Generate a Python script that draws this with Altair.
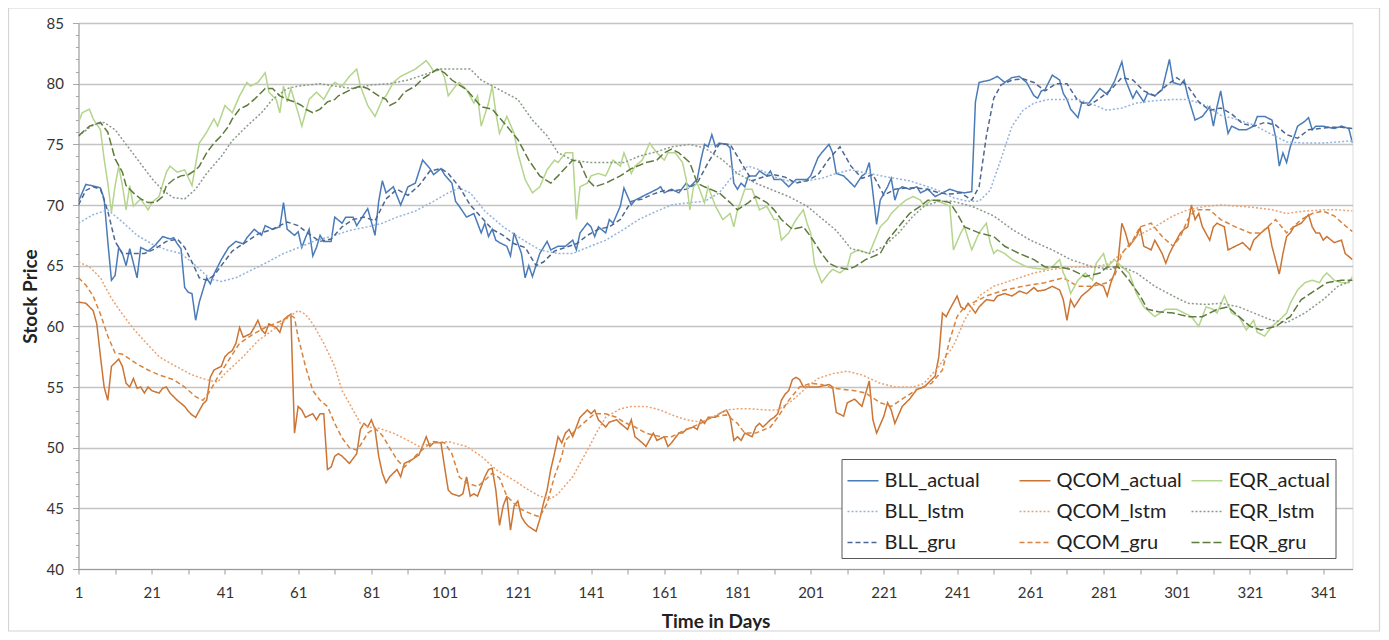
import altair as alt
import pandas as pd

# ---------------- data ----------------
BLL_ACTUAL_DAYS = [1,3,6,7,8,9,10,11,12,13,14,15,16,17,18,20,22,24,26,27,28,29,30,31,32,33,34,35,36,37,38,40,42,44,46,47,49,51,52,54,56,57,58,60,61,62,63,64,65,66,67,68,70,71,73,74,76,77,80,82,83,84,85,87,89,91,93,95,97,98,100,101,103,104,105,107,109,111,112,113,114,115,116,118,119,120,122,123,124,125,127,129,130,132,134,136,137,138,140,141,142,143,145,146,147,149,150,151,152,153,155,157,159,160,161,163,165,167,168,170,171,172,173,174,175,176,178,179,180,181,182,183,184,186,187,189,190,191,193,195,196,197,200,201,203,204,206,207,208,210,211,213,215,216,217,218,219,220,222,223,224,225,226,228,230,231,233,235,237,239,241,243,245,246,247,250,252,254,256,258,260,262,263,264,265,267,269,270,271,272,274,275,277,280,282,284,286,287,289,290,292,293,295,297,299,300,302,303,304,306,308,310,311,312,313,314,315,316,318,320,322,323,325,327,328,329,330,331,332,333,334,336,337,338,339,341,344,346,348,349]
BLL_ACTUAL_VALS = [70.3,71.7,71.5,71.4,70.5,67.0,63.8,64.2,66.5,66.0,65.0,66.4,65.2,64.0,66.5,66.2,66.7,67.4,67.2,67.3,66.8,66.4,63.2,62.8,62.7,60.5,62.0,63.0,64.0,63.5,64.3,65.5,66.5,67.0,66.8,67.3,68.0,67.5,68.3,68.0,68.2,70.2,68.0,67.5,67.8,66.5,67.3,68.0,65.8,66.5,67.5,67.0,67.0,69.0,68.5,69.0,69.0,68.3,69.7,67.5,70.3,72.0,71.0,71.5,70.0,71.5,71.8,73.7,73.0,72.5,73.0,72.5,71.8,70.3,69.9,69.0,69.3,67.7,68.5,67.4,68.0,67.1,66.9,66.6,65.8,67.7,66.0,64.0,65.0,64.1,66.0,67.0,66.3,66.6,66.6,67.1,66.3,67.7,68.5,68.2,67.4,68.2,67.7,68.8,68.5,69.9,71.4,70.7,70.0,70.4,70.7,71.0,71.3,71.5,71.0,71.3,71.0,71.8,71.5,72.1,73.7,75.0,74.8,75.8,74.8,75.1,75.0,74.7,71.8,71.3,71.8,71.5,72.4,72.4,72.8,72.4,72.8,72.1,72.1,71.5,71.8,72.1,72.1,72.4,73.9,74.3,75.0,74.3,72.6,72.4,72.1,71.5,72.4,72.6,73.5,71.0,68.4,70.4,71.5,72.2,70.4,71.3,71.5,71.3,71.5,71.0,71.3,70.7,71.0,71.3,71.1,71.0,71.1,78.5,80.1,80.3,80.6,80.1,80.5,80.6,80.1,79.0,78.8,79.4,79.5,80.7,80.3,79.2,78.7,77.9,77.2,78.4,78.4,79.6,79.1,80.2,81.8,80.3,78.8,79.4,78.5,79.2,79.0,79.5,82.0,80.1,79.9,80.3,79.0,77.0,77.3,78.1,76.5,78.1,79.4,77.6,75.9,76.5,76.2,76.2,76.5,77.3,77.3,77.0,75.6,73.2,74.3,73.5,74.8,75.6,76.5,76.9,77.2,76.2,76.5,76.5,76.3,76.5,76.3,75.1]

BLL_GRU_DAYS = [1,3,5,7,9,11,13,16,19,22,25,28,30,32,34,36,38,40,43,46,50,54,58,61,64,67,70,73,76,79,82,85,88,91,94,97,100,102,105,108,111,114,117,120,123,126,128,131,134,137,140,143,146,149,152,155,158,161,164,167,170,173,176,179,182,185,188,191,194,197,200,203,206,209,212,215,218,221,224,227,230,233,236,239,242,245,247,249,251,253,256,259,262,265,268,271,274,277,280,283,286,289,292,295,298,301,304,307,310,313,316,319,322,325,328,331,334,337,340,343,346,349]
BLL_GRU_VALS = [70.0,71.2,71.5,71.3,69.5,67.0,66.0,66.0,66.0,66.4,67.0,67.2,66.5,65.3,64.0,63.8,64.2,65.0,66.2,66.8,67.6,68.0,68.6,68.3,67.6,67.0,67.2,68.2,68.8,69.0,68.7,70.5,71.3,70.8,71.6,72.8,73.0,72.6,71.5,70.0,69.0,68.0,67.5,66.8,66.5,65.0,65.3,66.2,66.5,66.8,67.5,68.0,68.2,68.8,70.3,70.5,70.9,71.2,71.2,71.3,71.8,73.5,75.0,75.0,73.5,72.0,72.3,72.5,72.3,71.8,72.0,72.5,73.8,74.8,73.2,72.2,72.5,70.8,71.3,71.4,71.4,71.3,71.0,70.9,71.0,70.4,71.5,75.7,78.8,79.9,80.3,80.4,80.1,79.4,80.0,80.0,78.6,78.2,78.8,79.5,80.5,80.3,79.4,79.0,79.8,80.5,79.8,78.5,77.8,78.0,77.5,76.7,76.5,76.8,76.6,75.8,75.5,76.2,76.3,76.4,76.4,76.3]

BLL_LSTM_DAYS = [1,5,9,13,17,21,25,29,33,37,40,44,48,52,57,62,66,70,75,80,84,88,93,98,102,105,108,112,117,122,127,132,136,140,145,150,154,159,163,168,172,176,180,184,188,192,196,200,204,208,212,217,222,228,235,240,244,247,250,253,256,259,262,266,270,274,278,282,286,290,295,300,304,309,313,318,322,327,331,336,341,345,349]
BLL_LSTM_VALS = [68.5,69.2,69.6,68.6,67.5,66.8,66.3,66.0,65.0,63.9,63.7,64.0,64.6,65.2,66.0,66.6,67.1,67.4,67.9,68.2,68.5,69.0,69.5,70.3,71.0,71.4,71.0,69.5,68.2,67.2,66.3,66.0,66.0,66.5,67.1,68.0,68.8,69.5,70.0,70.2,70.3,71.0,72.5,73.2,72.8,72.2,71.9,72.0,72.2,72.6,72.9,72.6,72.3,72.0,71.3,70.6,70.3,70.3,71.2,73.8,76.5,77.8,78.4,78.7,78.7,78.7,78.3,77.8,78.0,78.4,78.6,78.7,78.7,78.2,77.4,77.0,76.6,75.8,75.2,75.1,75.1,75.2,75.3]

QCOM_ACTUAL_DAYS = [1,3,5,6,7,8,9,10,12,13,14,15,16,17,18,19,20,21,23,24,25,26,28,30,31,32,33,35,36,37,38,40,41,42,43,44,45,46,48,49,50,51,52,53,55,56,57,58,59,60,61,62,63,65,66,67,68,69,70,71,72,73,74,75,77,78,79,80,81,82,83,84,85,86,88,89,90,92,94,96,97,98,100,101,102,103,105,106,107,108,109,110,111,112,113,114,115,116,117,118,119,120,121,122,123,124,126,127,128,129,130,131,132,133,134,135,136,137,138,140,141,142,143,145,146,148,149,151,152,153,155,156,158,159,161,162,163,165,166,167,169,170,171,172,173,175,176,178,179,180,181,182,183,185,186,187,188,190,191,192,193,194,195,196,197,198,199,201,203,206,207,208,210,211,213,215,217,218,219,221,222,223,224,226,228,230,232,233,235,236,237,238,239,241,242,243,244,246,247,249,251,252,254,256,258,260,262,263,265,267,269,270,271,272,273,275,277,279,281,282,283,284,285,286,287,288,290,291,292,294,295,297,298,299,300,302,303,304,305,306,307,308,310,311,312,314,315,317,319,321,322,324,326,327,329,330,331,332,333,335,337,338,339,340,341,342,344,346,347,349]
QCOM_ACTUAL_VALS = [62.0,61.9,61.3,60.2,57.5,55.0,53.9,56.7,57.3,56.7,55.3,55.0,55.7,54.9,55.0,54.5,55.0,54.7,54.5,54.9,55.0,54.5,53.9,53.4,53.0,52.7,52.5,53.6,53.9,55.8,56.4,56.7,57.5,57.8,58.0,58.6,59.9,59.1,59.4,59.9,60.5,59.7,59.4,60.2,59.9,59.5,60.5,60.8,61.0,51.2,53.4,53.1,52.5,52.8,52.3,52.8,52.8,48.2,48.4,49.3,49.5,49.3,49.0,48.7,49.5,51.5,52.0,51.7,52.3,51.5,49.3,47.9,47.1,47.6,48.2,47.6,48.7,49.0,49.4,50.9,50.1,50.4,50.4,48.4,46.5,46.2,46.0,46.2,47.6,46.0,46.2,46.0,46.8,47.6,48.2,48.3,46.5,43.6,45.2,46.0,43.2,45.2,45.6,44.3,43.8,43.5,43.1,44.1,45.4,46.5,48.2,49.5,50.9,50.4,51.2,51.5,50.9,51.7,52.5,53.1,52.8,53.1,52.3,51.7,52.1,52.3,52.0,51.5,52.3,50.9,50.4,50.1,51.2,50.6,50.9,50.1,50.4,51.2,51.2,51.5,51.7,51.5,52.3,52.0,52.5,52.5,52.8,53.1,52.5,50.6,50.9,50.6,51.2,50.9,51.7,52.0,51.7,52.3,52.5,52.8,53.9,54.4,54.7,55.6,55.8,55.6,55.0,55.0,55.0,55.2,55.0,52.9,52.6,53.7,54.0,53.4,55.5,52.3,51.2,52.6,53.7,53.1,52.0,53.4,54.0,54.8,55.0,55.3,55.9,57.5,61.1,60.8,61.4,62.5,61.6,61.4,61.9,61.1,61.6,62.2,62.1,62.5,62.7,62.5,62.9,62.7,63.2,62.9,63.0,63.3,63.0,62.2,60.5,62.2,61.6,62.5,63.0,63.6,63.3,62.5,63.6,64.4,65.5,68.5,67.7,66.6,67.4,68.1,66.6,66.3,67.1,66.0,65.2,66.0,66.6,67.7,68.0,68.2,70.0,68.8,69.3,68.2,67.1,68.2,68.5,68.2,66.3,66.6,66.9,66.3,67.1,67.7,68.2,66.6,64.3,66.0,67.4,67.7,68.2,68.5,69.2,68.2,67.7,67.7,67.1,67.4,66.9,67.1,66.0,65.5]

QCOM_GRU_DAYS = [1,3,5,7,9,11,13,15,17,20,23,27,30,33,35,37,39,42,45,49,52,56,59,60,61,63,65,67,69,71,73,75,77,78,80,82,84,86,88,90,92,94,96,98,101,103,105,107,110,112,114,116,118,120,122,125,127,129,131,133,134,137,140,142,145,148,150,153,156,160,163,167,171,174,178,181,183,186,190,192,195,198,201,204,207,210,213,216,220,223,227,230,234,237,239,241,243,245,249,254,259,265,270,274,278,282,284,286,289,291,294,297,300,302,304,306,310,313,317,321,324,328,331,335,338,341,344,347,349]
QCOM_GRU_VALS = [64.0,63.4,62.5,61.0,59.2,57.8,57.7,57.3,56.9,56.4,56.0,55.6,55.0,54.2,53.9,54.7,55.8,57.2,58.6,59.4,59.9,60.4,60.9,60.7,59.1,56.7,54.7,53.9,53.4,52.0,50.8,50.0,49.8,50.2,51.2,51.6,51.0,50.0,49.0,48.4,49.0,49.6,50.1,50.5,50.4,49.5,47.6,47.1,46.8,47.3,47.9,47.5,46.0,45.4,44.9,44.5,44.3,45.4,47.6,49.3,50.6,51.5,52.3,52.8,52.8,52.5,52.1,51.7,51.2,50.9,50.9,51.5,52.0,52.5,52.7,52.0,51.2,51.2,51.7,52.5,53.9,55.0,55.3,55.2,54.9,54.8,54.7,54.5,53.7,53.4,54.2,54.8,55.3,56.4,58.9,60.8,61.6,61.9,62.5,63.0,63.3,63.6,64.0,63.3,63.3,63.6,64.1,66.0,67.1,68.2,68.5,67.4,66.6,67.4,68.8,69.6,69.6,68.8,68.2,67.7,67.7,68.8,67.7,68.8,69.3,69.5,69.1,68.3,67.8]

QCOM_LSTM_DAYS = [1,4,7,10,13,16,19,23,27,32,36,39,41,46,50,55,59,61,63,65,68,71,73,76,78,80,83,87,91,94,98,102,107,111,115,120,124,127,130,132,136,140,143,145,149,152,156,160,163,167,171,174,178,181,185,189,192,196,200,203,207,211,215,220,224,229,232,236,240,243,247,251,256,262,267,272,278,282,286,290,295,300,304,309,313,318,322,327,331,336,341,345,349]
QCOM_LSTM_VALS = [65.3,64.9,64.0,62.3,61.0,59.8,58.8,57.5,56.8,56.0,55.6,55.4,56.1,57.5,58.8,59.9,60.9,61.3,61.0,60.2,58.6,56.7,54.7,53.1,52.0,51.7,51.6,51.2,50.6,50.1,50.4,50.5,50.1,49.3,48.2,47.3,46.5,46.0,45.8,46.2,47.6,49.8,51.5,52.5,53.2,53.4,53.4,53.1,52.7,52.3,52.1,52.5,53.1,53.2,53.2,53.1,53.1,53.9,55.0,55.7,56.1,56.3,56.0,55.3,55.0,55.0,55.3,56.7,58.4,60.5,62.5,63.3,63.8,64.4,64.7,64.9,64.9,65.1,66.0,67.4,68.2,69.1,69.6,69.9,70.0,69.9,69.8,69.6,69.3,69.5,69.6,69.6,69.5]

EQR_ACTUAL_DAYS = [1,2,4,5,7,8,9,10,11,12,13,14,15,16,18,20,21,23,25,26,28,30,32,34,36,38,39,41,43,45,47,48,50,52,53,55,56,57,58,59,61,62,64,66,68,70,71,73,75,77,78,80,82,84,85,87,89,91,93,96,97,98,100,101,102,104,105,107,109,110,111,113,114,115,116,118,120,121,123,125,127,129,131,132,134,136,137,138,140,141,143,145,147,149,150,151,152,153,155,157,159,161,162,164,166,167,168,169,170,171,172,173,175,177,179,180,181,182,183,185,187,189,191,192,193,195,197,199,200,201,202,204,206,207,209,211,212,214,217,220,222,223,225,227,229,231,232,234,236,239,240,242,243,245,247,249,250,251,252,254,256,258,260,262,265,267,269,270,271,272,274,276,278,279,281,282,284,286,288,290,292,295,298,301,303,305,307,309,311,312,314,316,318,320,322,323,325,327,329,331,332,334,336,338,340,341,342,344,346,348,349]
EQR_ACTUAL_VALS = [76.8,77.6,77.9,77.1,76.2,73.8,71.8,69.4,71.6,73.2,71.6,69.6,71.6,69.9,70.5,69.6,70.2,70.7,72.7,73.2,72.7,72.9,71.6,75.1,76.0,77.1,76.5,78.2,77.6,79.0,80.1,79.8,80.1,80.9,79.3,78.7,77.6,79.8,78.5,79.6,77.6,76.5,78.7,79.3,78.7,79.8,80.1,79.8,80.6,81.2,79.8,78.2,77.3,78.7,79.0,80.1,80.6,80.9,81.2,81.9,81.5,81.0,81.2,80.5,79.0,79.8,80.1,79.5,78.4,79.0,76.5,78.4,79.8,77.6,75.9,77.3,75.9,74.3,72.1,71.0,71.5,72.9,73.7,73.5,74.3,74.3,68.8,71.5,71.8,72.4,72.6,72.4,73.7,73.2,74.3,73.5,72.6,73.2,73.7,75.1,74.3,73.7,74.3,74.3,73.5,72.1,69.6,71.5,71.8,71.0,70.2,71.5,69.9,68.8,69.3,68.2,69.6,70.4,71.3,71.3,69.6,69.9,68.8,68.8,67.1,67.7,68.8,69.6,68.5,67.7,65.2,63.6,64.4,64.7,64.4,64.9,66.0,66.3,66.0,68.2,68.8,69.3,69.9,70.4,70.7,70.4,69.9,70.4,70.3,69.9,66.3,67.7,68.2,66.3,67.7,68.5,66.9,66.0,66.3,66.0,65.5,65.2,64.9,64.8,64.7,64.9,65.5,64.4,63.8,62.7,63.8,64.4,63.8,65.2,66.0,64.9,65.5,64.9,64.4,62.7,61.6,60.8,61.4,61.4,61.1,60.8,60.0,61.6,61.4,61.1,62.5,61.1,60.8,59.7,60.5,59.5,59.2,60.0,60.5,61.1,61.9,63.0,63.6,63.8,63.6,64.1,64.4,63.8,63.6,63.6,64.1,64.4]

EQR_GRU_DAYS = [1,4,7,9,11,13,14,16,18,20,22,24,25,27,29,31,33,34,36,38,40,42,43,45,47,49,51,52,54,56,58,60,62,63,65,67,69,71,72,74,76,78,80,83,85,86,88,90,93,95,97,99,101,103,107,111,114,118,121,124,127,130,132,136,138,140,142,145,149,152,156,159,161,163,165,168,170,172,176,179,181,184,186,189,191,193,196,199,201,204,206,208,211,213,216,220,222,225,228,231,233,236,239,241,243,247,251,254,258,262,265,269,272,276,280,282,285,288,291,293,296,300,304,308,312,315,318,321,324,328,332,335,339,342,346,349]
EQR_GRU_VALS = [75.7,76.5,76.8,76.0,73.8,72.7,71.6,71.0,70.5,70.2,70.2,70.7,71.6,72.1,72.4,72.5,72.9,73.2,74.3,75.1,75.7,76.5,77.1,77.9,78.2,78.7,79.3,79.6,79.6,79.0,78.7,78.5,78.2,77.9,77.6,77.9,78.5,78.7,79.0,79.3,79.6,79.8,79.6,79.0,78.7,78.2,78.5,79.3,79.8,80.4,80.8,81.2,80.9,80.3,79.5,78.1,77.9,76.5,75.4,73.7,72.4,71.8,72.4,73.7,73.5,72.1,71.5,71.8,72.4,73.0,73.5,73.7,74.3,74.6,74.3,73.5,71.8,71.5,71.0,70.2,69.6,70.2,70.7,70.2,69.6,68.8,68.0,68.2,67.4,66.0,65.2,64.9,64.7,64.9,65.5,66.0,67.1,68.2,69.3,69.9,70.4,70.4,70.2,69.3,68.2,67.7,67.4,66.6,66.0,65.5,64.9,64.9,64.7,64.1,64.4,64.9,64.9,63.8,62.5,61.4,61.2,61.1,60.8,60.8,61.4,61.6,60.8,60.0,59.7,60.0,60.8,62.2,63.0,63.6,63.8,63.8]

EQR_LSTM_DAYS = [1,5,8,11,14,18,21,24,27,30,33,36,40,43,47,51,54,58,61,67,71,76,81,86,91,96,100,104,108,111,116,121,125,129,132,136,141,145,150,154,159,163,168,172,177,181,186,190,195,200,204,208,212,217,221,225,229,232,236,240,245,251,256,261,267,272,278,283,286,290,295,300,304,309,313,318,322,327,331,336,341,345,349]
EQR_LSTM_VALS = [75.7,76.6,76.8,76.2,75.0,73.4,72.2,71.2,70.6,70.5,71.3,72.6,74.0,75.3,76.5,77.6,78.7,79.6,79.8,80.0,79.8,79.6,79.9,80.0,80.3,80.8,81.2,81.2,81.2,80.3,79.5,78.7,77.0,75.7,74.3,73.7,73.5,73.5,73.5,74.0,74.4,74.8,75.0,74.7,73.7,72.6,71.8,71.3,70.7,69.9,68.9,67.9,66.4,66.0,66.6,67.7,69.1,69.9,70.3,70.3,69.9,69.1,68.0,67.1,66.3,65.5,64.9,64.7,64.9,64.4,63.3,62.5,61.9,61.8,61.9,61.6,61.1,60.5,60.3,61.1,62.2,63.3,63.8]

SERIES_ORDER = ["BLL_actual", "QCOM_actual", "EQR_actual",
                "BLL_lstm", "QCOM_lstm", "EQR_lstm",
                "BLL_gru", "QCOM_gru", "EQR_gru"]
SERIES_COLORS = ["#4a7bb9", "#cb7433", "#b5d48c",
                 "#93b3dc", "#eba271", "#8c9a8a",
                 "#4d6790", "#d8843e", "#5e7a3c"]
SERIES_DASHES = [[1, 0], [1, 0], [1, 0],
                 [2, 2], [2, 2], [2, 2],
                 [5, 3], [5, 3], [8, 3]]

X_TICKS = list(range(1, 350, 10))
Y_TICKS = list(range(40, 86))

# ---------------- build a long table ----------------
raw = {
    "BLL_actual": (BLL_ACTUAL_DAYS, BLL_ACTUAL_VALS),
    "BLL_lstm": (BLL_LSTM_DAYS, BLL_LSTM_VALS),
    "BLL_gru": (BLL_GRU_DAYS, BLL_GRU_VALS),
    "QCOM_actual": (QCOM_ACTUAL_DAYS, QCOM_ACTUAL_VALS),
    "QCOM_lstm": (QCOM_LSTM_DAYS, QCOM_LSTM_VALS),
    "QCOM_gru": (QCOM_GRU_DAYS, QCOM_GRU_VALS),
    "EQR_actual": (EQR_ACTUAL_DAYS, EQR_ACTUAL_VALS),
    "EQR_lstm": (EQR_LSTM_DAYS, EQR_LSTM_VALS),
    "EQR_gru": (EQR_GRU_DAYS, EQR_GRU_VALS),
}
rows = []
for name, (d, v) in raw.items():
    n = min(len(d), len(v))
    for i in range(n):
        rows.append({"series": name, "day": d[i], "price": v[i]})
df = pd.DataFrame(rows)

FONT = "Lato"
W, H = 1274, 546

legend = alt.Legend(
    title=None, orient="none", legendX=763, legendY=436,
    columns=3, direction="horizontal", gridAlign="all",
    symbolType="stroke", symbolSize=961, symbolStrokeWidth=1.6,
    labelFont=FONT, labelFontSize=20, labelColor="#222222",
    labelOffset=5, columnPadding=5, rowPadding=4,
    padding=5, strokeColor="#595959", fillColor="white",
)

lines = alt.Chart(df).mark_line(strokeWidth=1.5, clip=True).encode(
    x=alt.X("day:Q",
            scale=alt.Scale(domain=[1, 349], nice=False, zero=False),
            axis=alt.Axis(values=X_TICKS, grid=False,
                          labelExpr="(datum.value - 1) % 20 == 0 ? datum.label : ''",
                          labelOverlap=False, labelFlush=False,
                          tickSize=5, tickColor="#9a9a9a", domainColor="#9a9a9a",
                          labelPadding=11, labelFont=FONT, labelFontSize=15,
                          labelColor="#333333", titleFont=FONT, titleFontSize=19,
                          titleFontWeight="bold", titleColor="#222222",
                          titlePadding=12),
            title="Time in Days"),
    y=alt.Y("price:Q",
            scale=alt.Scale(domain=[40, 85], nice=False, zero=False),
            axis=alt.Axis(values=Y_TICKS,
                          labelExpr="datum.value % 5 == 0 ? datum.label : ''",
                          labelOverlap=False, labelFlush=False,
                          gridColor="#c4c4c4", gridWidth=1.5,
                          gridOpacity={"condition": {"test": "datum.value % 5 == 0", "value": 1}, "value": 0},
                          tickSize={"condition": {"test": "datum.value % 5 == 0", "value": 6}, "value": 3},
                          tickColor="#a8a8a8", domainColor="#9a9a9a",
                          labelPadding=9, labelFont=FONT, labelFontSize=15,
                          labelColor="#333333", titleFont=FONT, titleFontSize=19,
                          titleFontWeight="bold", titleColor="#222222",
                          titlePadding=6),
            title="Stock Price"),
    color=alt.Color("series:N", scale=alt.Scale(domain=SERIES_ORDER, range=SERIES_COLORS), legend=legend),
    strokeDash=alt.StrokeDash("series:N", scale=alt.Scale(domain=SERIES_ORDER, range=SERIES_DASHES), legend=legend),
    order=alt.Order("day:Q"),
)

frame = alt.Chart(pd.DataFrame({"k": [0]})).mark_rect(
    fill=None, stroke="#d4d4d4", strokeWidth=1.2, clip=False
).encode(x=alt.value(-70), x2=alt.value(W + 27), y=alt.value(-15), y2=alt.value(H + 62))

chart = alt.layer(frame, lines).properties(
    width=W, height=H,
    autosize=alt.AutoSizeParams(type="none"),
    padding={"left": 70.5, "top": 15, "right": 28, "bottom": 63},
).configure_view(stroke=None).configure(background="white")

chart.save("out.html", embed_options={"renderer": "svg", "actions": False})
